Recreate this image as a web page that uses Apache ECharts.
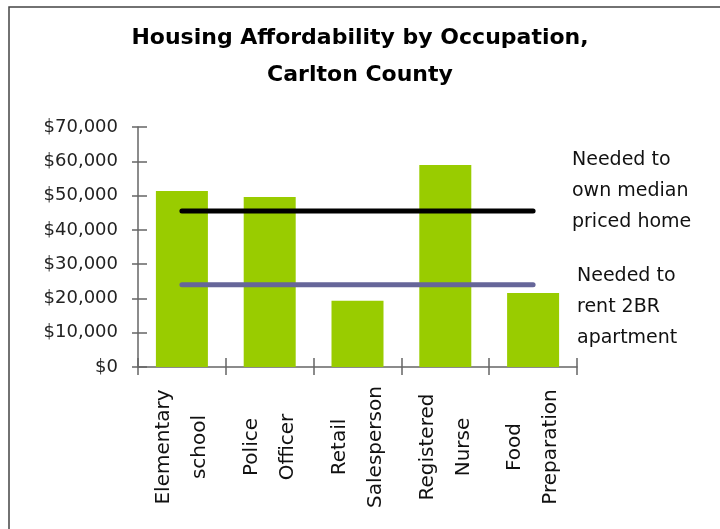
<!DOCTYPE html>
<html>
<head>
<meta charset="utf-8">
<script src="https://cdn.jsdelivr.net/npm/echarts@6/dist/echarts.min.js"></script>
<style>
  html, body { margin: 0; padding: 0; background: #fff; }
  #chart { width: 720px; height: 529px; }
</style>
</head>
<body>
<div id="chart"></div>
<script>
  var occupations = ['Elementary\nschool', 'Police\nOfficer', 'Retail\nSalesperson', 'Registered\nNurse', 'Food\nPreparation'];
  var wages = [51300, 49600, 19300, 58900, 21600];
  var neededToOwn = [45500, 45500, 45500, 45500, 45500];
  var neededToRent = [24000, 24000, 24000, 24000, 24000];
  var yTicks = [0, 10000, 20000, 30000, 40000, 50000, 60000, 70000];

  var axisColor = '#666';
  var chart = echarts.init(document.getElementById('chart'));
  chart.setOption({
    animation: false,
    backgroundColor: '#fff',
    title: {
      text: 'Housing Affordability by Occupation,\nCarlton County',
      left: 'center',
      top: 15,
      textStyle: {
        fontFamily: 'DejaVu Sans',
        fontSize: 22,
        fontWeight: 'bold',
        color: '#000',
        lineHeight: 37
      }
    },
    graphic: [
      {
        type: 'rect',
        shape: { x: 9, y: 7, width: 760, height: 600 },
        style: { fill: 'none', stroke: '#444', lineWidth: 1.5 },
        silent: true
      },
      {
        type: 'text',
        left: 572,
        top: 145,
        style: {
          text: 'Needed to\nown median\npriced home',
          fontFamily: 'DejaVu Sans',
          fontSize: 19,
          lineHeight: 31,
          fill: '#111'
        }
      },
      {
        type: 'text',
        left: 577,
        top: 261,
        style: {
          text: 'Needed to\nrent 2BR\napartment',
          fontFamily: 'DejaVu Sans',
          fontSize: 19,
          lineHeight: 31,
          fill: '#111'
        }
      }
    ],
    grid: { left: 138, right: 143, top: 127, bottom: 162 },
    xAxis: [
      {
        type: 'category',
        data: occupations,
        axisLine: { lineStyle: { color: axisColor, width: 1.5 } },
        axisTick: { show: true, length: 8, lineStyle: { color: axisColor, width: 1.5 } },
        axisLabel: {
          interval: 0,
          rotate: 90,
          align: 'center',
          verticalAlign: 'middle',
          margin: 80,
          fontFamily: 'DejaVu Sans',
          fontSize: 20,
          lineHeight: 36,
          color: '#111'
        }
      },
      {
        type: 'category',
        data: occupations,
        position: 'bottom',
        axisLine: { show: false },
        axisTick: { show: true, inside: true, length: 9, lineStyle: { color: axisColor, width: 1.5 } },
        axisLabel: { show: false }
      }
    ],
    yAxis: [
      {
        type: 'value',
        min: yTicks[0],
        max: yTicks[yTicks.length - 1],
        interval: 10000,
        splitLine: { show: false },
        axisLine: { show: true, lineStyle: { color: axisColor, width: 1.5 } },
        axisTick: { show: true, length: 6, lineStyle: { color: axisColor, width: 1.5 } },
        axisLabel: {
          margin: 20,
          fontFamily: 'DejaVu Sans',
          fontSize: 18,
          color: '#222',
          formatter: function (v) {
            return '$' + v.toLocaleString('en-US');
          }
        }
      },
      {
        type: 'value',
        min: yTicks[0],
        max: yTicks[yTicks.length - 1],
        interval: 10000,
        position: 'left',
        splitLine: { show: false },
        axisLine: { show: false },
        axisTick: { show: true, inside: true, length: 9, lineStyle: { color: axisColor, width: 1.5 } },
        axisLabel: { show: false }
      }
    ],
    series: [
      {
        name: 'Wage',
        type: 'bar',
        data: wages,
        barWidth: 52,
        itemStyle: { color: '#99cc00' }
      },
      {
        name: 'Needed to own median priced home',
        type: 'line',
        data: neededToOwn,
        symbol: 'none',
        lineStyle: { color: '#000', width: 5, cap: 'round' }
      },
      {
        name: 'Needed to rent 2BR apartment',
        type: 'line',
        data: neededToRent,
        symbol: 'none',
        lineStyle: { color: '#666699', width: 5, cap: 'round' }
      }
    ]
  });
</script>
</body>
</html>
